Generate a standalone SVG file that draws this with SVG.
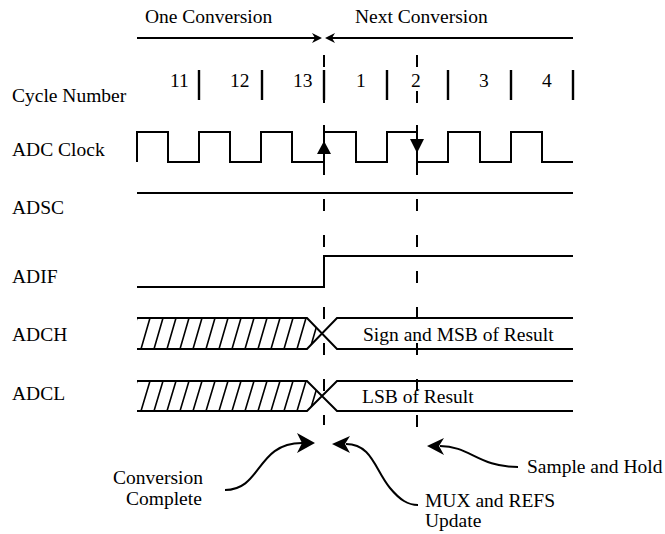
<svg xmlns="http://www.w3.org/2000/svg" width="665" height="534" viewBox="0 0 665 534">
<style>
text{font-family:"Liberation Serif","Times New Roman",serif;font-size:19.5px;fill:#000}
.ln{fill:none;stroke:#000;stroke-width:2}
.tk{fill:none;stroke:#000;stroke-width:2.4}
.dash{fill:none;stroke:#000;stroke-width:2;stroke-dasharray:12 24}
.hatch{fill:none;stroke:#000;stroke-width:1.6}
.ah{fill:#000;stroke:none}
</style>
<defs>
<clipPath id="clipH"><polygon points="137,318 307,318 322,333.5 307,349 137,349"/></clipPath>
<clipPath id="clipL"><polygon points="137,381 307,381 322,396 307,411 137,411"/></clipPath>
</defs>
<rect width="665" height="534" fill="#fff"/>

<g id="header">
<text x="145" y="23">One Conversion</text>
<text x="355" y="23">Next Conversion</text>
<line class="ln" x1="137" y1="38" x2="316" y2="38"/>
<path class="ah" d="M322,38 L312,33 L315,38 L312,43 Z"/>
<line class="ln" x1="331" y1="38" x2="573" y2="38"/>
<path class="ah" d="M325,38 L335,33 L332,38 L335,43 Z"/>
</g>

<g id="cycle-number">
<text x="12" y="102">Cycle Number</text>
<text x="170" y="87">11</text>
<text x="230" y="87">12</text>
<text x="293" y="87">13</text>
<text x="356" y="87">1</text>
<text x="411" y="87">2</text>
<text x="479" y="87">3</text>
<text x="542" y="87">4</text>
<path class="tk" d="M199,70V100 M262,70V100 M324,70V100 M387,70V100 M448,70V100 M511,70V100 M573,70V100"/>
</g>

<g id="adc-clock">
<text x="12" y="156">ADC Clock</text>
<path class="ln" d="M137,162 V132 H168 V162 H199 V132 H230 V162 H261 V132 H292 V162 H324 V132 H356 V162 H387 V132 H417 V162 H448 V132 H480 V162 H511 V132 H542 V162 H573"/>
<line class="ln" x1="324" y1="125" x2="324" y2="173"/>
<line class="ln" x1="417" y1="125" x2="417" y2="173"/>
<path class="ah" d="M324,141 L317,154 L331,154 Z"/>
<path class="ah" d="M410,139 L424,139 L417,153 Z"/>
</g>

<g id="adsc">
<text x="12" y="214">ADSC</text>
<line class="ln" x1="137" y1="193" x2="573" y2="193"/>
</g>

<g id="adif">
<text x="12" y="283">ADIF</text>
<path class="ln" d="M137,287 H324 V256 H573"/>
</g>

<g id="adch">
<text x="12" y="341">ADCH</text>
<path class="ln" d="M137,318 H307 L337,349 H573 M137,349 H307 L337,318 H573"/>
<path class="hatch" clip-path="url(#clipH)" d="M128,349 L137,318 M141,349 L150,318 M154,349 L163,318 M167,349 L176,318 M180,349 L189,318 M193,349 L202,318 M206,349 L215,318 M219,349 L228,318 M232,349 L241,318 M245,349 L254,318 M258,349 L267,318 M271,349 L280,318 M284,349 L293,318 M297,349 L306,318 M310,349 L319,318"/>
<text x="363" y="341">Sign and MSB of Result</text>
</g>

<g id="adcl">
<text x="12" y="400">ADCL</text>
<path class="ln" d="M137,381 H307 L337,411 H573 M137,411 H307 L337,381 H573"/>
<path class="hatch" clip-path="url(#clipL)" d="M128,411 L137,381 M141,411 L150,381 M154,411 L163,381 M167,411 L176,381 M180,411 L189,381 M193,411 L202,381 M206,411 L215,381 M219,411 L228,381 M232,411 L241,381 M245,411 L254,381 M258,411 L267,381 M271,411 L280,381 M284,411 L293,381 M297,411 L306,381 M310,411 L319,381"/>
<text x="362" y="403">LSB of Result</text>
</g>

<g id="markers">
<line class="dash" x1="324" y1="55" x2="324" y2="425"/>
<line class="dash" x1="417" y1="55" x2="417" y2="427"/>
</g>

<g id="connectors">
<path class="ln" d="M225,490 C262,490 256,443 302,443"/>
<path class="ah" d="M315,443 L297,433 L302,443 L297,453 Z"/>
<path class="ln" d="M346,444 C372,444 375,470 390,488 C400,500 408,505 418,505"/>
<path class="ah" d="M332,444 L350,436 L345,444 L350,453 Z"/>
<path class="ln" d="M440,446 C470,446 478,467 518,467"/>
<path class="ah" d="M427,446 L444,438 L439,446 L444,455 Z"/>
</g>

<g id="annotations">
<text x="113" y="484">Conversion</text>
<text x="126" y="505">Complete</text>
<text x="425" y="507">MUX and REFS</text>
<text x="425" y="527">Update</text>
<text x="527" y="473">Sample and Hold</text>
</g>
</svg>
